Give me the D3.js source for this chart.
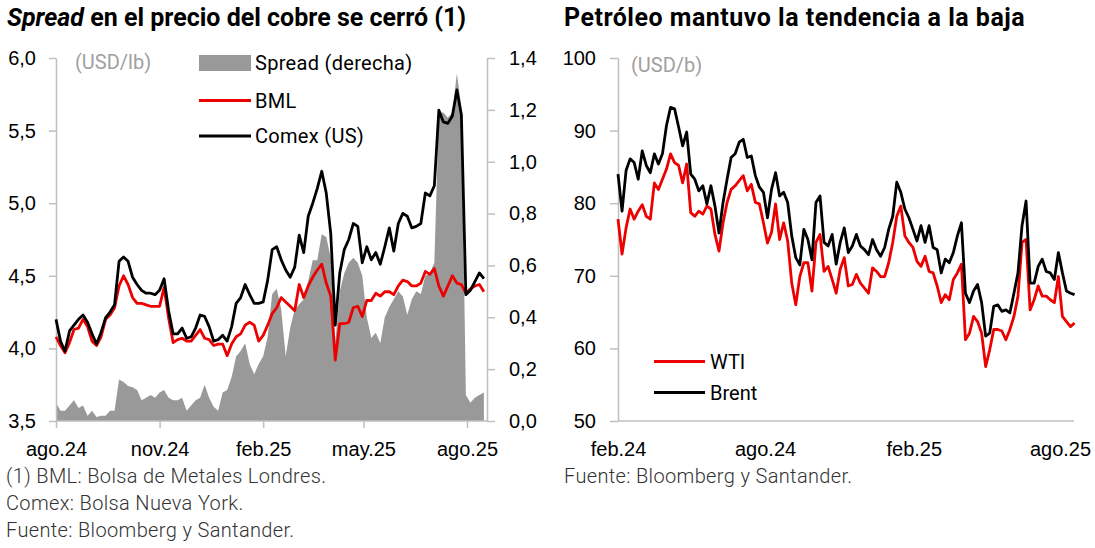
<!DOCTYPE html>
<html lang="es">
<head>
<meta charset="UTF-8">
<title>Cobre y petróleo</title>
<script src="https://d3js.org/d3.v7.min.js"></script>
<style>
  body { margin: 0; background: #fff; }
  svg { display: block; font-family: Roboto, "Noto Sans", sans-serif; }
</style>
</head>
<body>
<svg id="chart" width="1095" height="548"></svg>
<script>
// ---- copper (left): one reading every 4 days from 1 Aug 2024 ----
const copperStart = "2024-08-01";
const copperStepDays = 4;
const comex = [4.20,4.05,3.98,4.12,4.16,4.20,4.23,4.18,4.10,4.03,4.11,4.21,4.25,4.30,4.60,4.63,4.60,4.49,4.44,4.40,
  4.38,4.38,4.37,4.40,4.48,4.26,4.10,4.10,4.14,4.07,4.08,4.14,4.23,4.22,4.15,4.05,4.06,4.09,4.05,4.15,
  4.31,4.35,4.44,4.37,4.31,4.31,4.32,4.47,4.68,4.70,4.61,4.54,4.49,4.56,4.78,4.66,4.91,5.00,5.10,5.22,
  5.07,4.79,4.16,4.52,4.68,4.75,4.86,4.84,4.59,4.70,4.61,4.66,4.58,4.70,4.83,4.67,4.86,4.93,4.91,4.83,
  4.84,4.86,5.07,5.05,5.12,5.64,5.56,5.55,5.60,5.78,5.61,4.37,4.40,4.46,4.52,4.48];
const bml = [4.08,4.02,3.97,4.04,4.13,4.14,4.20,4.15,4.05,4.02,4.08,4.20,4.23,4.28,4.43,4.50,4.44,4.35,4.31,4.31,
  4.30,4.29,4.29,4.29,4.42,4.21,4.04,4.06,4.07,4.05,4.05,4.09,4.13,4.07,4.06,4.02,4.03,4.03,3.95,4.03,
  4.08,4.10,4.16,4.18,4.16,4.05,4.09,4.16,4.24,4.28,4.35,4.32,4.29,4.26,4.44,4.35,4.43,4.49,4.54,4.58,
  4.45,4.36,3.92,4.17,4.17,4.18,4.28,4.29,4.22,4.33,4.33,4.38,4.36,4.39,4.39,4.37,4.43,4.47,4.46,4.43,
  4.43,4.45,4.53,4.51,4.55,4.43,4.36,4.43,4.50,4.45,4.44,4.38,4.41,4.43,4.44,4.39];
const spread = [0.07,0.04,0.04,0.06,0.08,0.05,0.06,0.02,0.04,0.015,0.02,0.02,0.04,0.04,0.16,0.15,0.135,0.13,0.12,0.08,
  0.09,0.10,0.09,0.11,0.12,0.09,0.08,0.08,0.09,0.04,0.06,0.08,0.09,0.14,0.09,0.055,0.04,0.11,0.12,0.17,
  0.25,0.27,0.30,0.22,0.18,0.22,0.25,0.325,0.49,0.51,0.43,0.25,0.36,0.43,0.45,0.47,0.54,0.62,0.62,0.72,
  0.71,0.63,0.30,0.50,0.57,0.61,0.63,0.61,0.56,0.40,0.32,0.34,0.30,0.40,0.44,0.47,0.50,0.48,0.41,0.47,
  0.50,0.49,0.56,0.57,0.61,1.19,1.19,1.17,1.19,1.34,1.21,0.10,0.07,0.09,0.10,0.11];
const copperTickDates = ["2024-08-01", "2024-11-01", "2025-02-01", "2025-05-01", "2025-08-01"];
const copperTickLabels = ["ago.24", "nov.24", "feb.25", "may.25", "ago.25"];
const copperLeftTicks = [3.5, 4.0, 4.5, 5.0, 5.5, 6.0];
const copperRightTicks = [0, 0.2, 0.4, 0.6, 0.8, 1.0, 1.2, 1.4];

// ---- oil (right): one reading every 5 days from 1 Feb 2024 ----
const oilStart = "2024-02-01";
const oilStepDays = 5;
const brent = [84.0,78.9,84.5,86.1,85.6,83.3,87.2,85.2,84.2,86.8,85.4,86.8,90.7,93.2,93.0,90.5,87.9,89.8,84.0,83.3,
  81.7,82.4,79.9,82.4,79.6,75.9,80.1,83.3,86.3,86.8,88.4,88.8,86.3,86.5,83.8,82.2,81.5,78.0,81.9,84.2,
  81.0,81.5,80.1,75.5,72.5,71.5,76.4,75.0,72.2,80.1,81.0,74.6,74.1,75.7,71.6,74.6,76.6,73.2,74.1,75.7,
  74.1,73.6,72.9,75.0,73.6,72.7,73.9,76.4,78.2,82.9,81.5,79.2,78.0,76.4,74.8,76.9,74.6,76.9,73.9,73.6,
  70.4,72.3,71.8,73.2,75.5,77.3,67.6,66.3,67.9,68.8,66.3,61.7,62.1,65.8,66.0,65.1,65.3,64.9,67.6,70.4,
  76.9,80.3,69.0,69.0,71.3,72.3,70.6,70.4,69.5,73.2,70.4,67.9,67.6,67.4];
const wti = [77.8,73.0,76.6,79.2,77.8,78.9,79.8,78.2,77.8,82.8,81.9,83.3,84.7,86.8,85.6,85.2,82.8,85.4,78.7,78.2,
  78.9,78.5,79.6,79.2,75.7,73.4,77.3,80.1,81.9,82.4,83.1,83.8,81.7,82.6,80.1,79.9,77.3,74.5,76.0,79.9,
  75.0,77.3,74.8,69.0,66.0,69.9,71.8,71.8,67.9,74.6,75.7,70.6,71.3,69.5,67.6,70.9,72.5,68.6,68.8,70.2,
  69.0,68.3,67.6,71.1,70.6,69.9,69.9,71.8,74.6,78.2,79.6,75.5,74.6,73.9,72.0,71.3,72.7,70.6,70.4,68.6,
  66.3,67.4,66.7,69.5,70.4,71.6,61.2,62.1,64.4,63.7,62.1,57.5,59.8,62.6,62.6,62.4,61.2,62.6,64.4,67.2,
  74.6,75.0,65.3,66.7,68.6,67.2,67.2,66.7,66.3,69.9,64.4,63.7,63.0,63.5];
const oilTickDates = ["2024-02-01", "2024-08-01", "2025-02-01", "2025-08-01"];
const oilTickLabels = ["feb.24", "ago.24", "feb.25", "ago.25"];
const oilTicks = [50, 60, 70, 80, 90, 100];

const RED = "#ec0000", AXIS = "#bfbfbf", FILL = "#999999", NOTE = "#333333";
const parse = d3.timeParse("%Y-%m-%d");
const fmt1 = d3.formatLocale({decimal: ",", thousands: ".", grouping: [3], currency: ["", ""]}).format(".1f");

const svg = d3.select("#chart");

function series(start, step, values) {
  const t0 = parse(start);
  return values.map((v, i) => ({date: d3.timeDay.offset(t0, i * step), v}));
}

function styleAxis(g) {
  g.select(".domain").attr("stroke", AXIS).attr("stroke-width", 1.5);
  g.selectAll(".tick line").attr("stroke", AXIS).attr("stroke-width", 1.5);
  g.selectAll(".tick text").attr("fill", "#000").style("font-size", "20px");
}

function note(x, y, t) {
  svg.append("text").attr("x", x).attr("y", y)
    .attr("fill", NOTE).style("font-size", "20px").style("font-weight", 300)
    .style("letter-spacing", "0.35px").text(t);
}

// ================= left: copper =================
const L = {left: 56, right: 487, top: 58, bottom: 421};

const xL = d3.scaleTime()
  .domain([parse("2024-08-01"), parse("2025-08-01")])
  .range([L.left, 467]);
const yL = d3.scaleLinear().domain([3.5, 6.0]).range([L.bottom, L.top]);
const yS = d3.scaleLinear().domain([0, 1.4]).range([L.bottom, L.top]);

const comexData = series(copperStart, copperStepDays, comex);
const bmlData = series(copperStart, copperStepDays, bml);
const spreadData = series(copperStart, copperStepDays, spread);

svg.append("path")
  .datum(spreadData)
  .attr("fill", FILL)
  .attr("d", d3.area().x(d => xL(d.date)).y0(yS(0)).y1(d => yS(d.v)));

svg.append("g")
  .attr("transform", `translate(${L.left},0)`)
  .call(d3.axisLeft(yL).tickValues(copperLeftTicks).tickFormat(fmt1)
    .tickSize(7).tickSizeOuter(0).tickPadding(13))
  .call(styleAxis);

svg.append("g")
  .attr("transform", `translate(${L.right},0)`)
  .call(d3.axisRight(yS).tickValues(copperRightTicks).tickFormat(fmt1)
    .tickSize(8).tickSizeOuter(0).tickPadding(14))
  .call(styleAxis);

svg.append("g")
  .attr("transform", `translate(0,${L.bottom})`)
  .call(d3.axisBottom(xL).tickValues(copperTickDates.map(parse))
    .tickFormat((d, i) => copperTickLabels[i]).tickSize(7).tickSizeOuter(0).tickPadding(14))
  .call(styleAxis)
  .call(g => g.select(".domain").remove());

svg.append("line")
  .attr("x1", L.left).attr("x2", L.right)
  .attr("y1", L.bottom).attr("y2", L.bottom)
  .attr("stroke", AXIS).attr("stroke-width", 1.5);

const lineL = d3.line().x(d => xL(d.date)).y(d => yL(d.v));
svg.append("path").datum(bmlData)
  .attr("fill", "none").attr("stroke", RED).attr("stroke-width", 2.8)
  .attr("stroke-linejoin", "round").attr("d", lineL);
svg.append("path").datum(comexData)
  .attr("fill", "none").attr("stroke", "#000").attr("stroke-width", 2.8)
  .attr("stroke-linejoin", "round").attr("d", lineL);

svg.append("text")
  .attr("x", 75).attr("y", 62).attr("dy", "0.35em")
  .attr("fill", "#a0a0a0").style("font-size", "20px")
  .text("(USD/lb)");

// legend
const legL = svg.append("g").style("font-size", "20px");
legL.append("rect").attr("x", 199).attr("y", 55).attr("width", 52).attr("height", 16).attr("fill", FILL);
legL.append("line").attr("x1", 199).attr("x2", 251).attr("y1", 100.5).attr("y2", 100.5)
  .attr("stroke", RED).attr("stroke-width", 3);
legL.append("line").attr("x1", 199).attr("x2", 251).attr("y1", 136).attr("y2", 136)
  .attr("stroke", "#000").attr("stroke-width", 3);
[["Spread (derecha)", 63], ["BML", 100.5], ["Comex (US)", 136]].forEach(([t, y]) => {
  legL.append("text").attr("x", 255).attr("y", y).attr("dy", "0.35em")
    .style("letter-spacing", "0.3px").text(t);
});

// title
const tL = svg.append("text").attr("x", 7).attr("y", 26)
  .style("font-size", "25px").style("font-weight", "bold");
tL.append("tspan").style("font-style", "italic").text("Spread");
tL.append("tspan").text(" en el precio del cobre se cerró (1)");

// notes
["(1) BML: Bolsa de Metales Londres.", "Comex: Bolsa Nueva York.", "Fuente: Bloomberg y Santander."]
  .forEach((t, i) => note(6, 483 + i * 27, t));

// ================= right: oil =================
const R = {left: 618, right: 1074, top: 58, bottom: 421};

const xR = d3.scaleTime()
  .domain([parse("2024-02-01"), parse("2025-08-01")])
  .range([R.left, 1060]);
const yR = d3.scaleLinear().domain([50, 100]).range([R.bottom, R.top]);

const brentData = series(oilStart, oilStepDays, brent);
const wtiData = series(oilStart, oilStepDays, wti);

svg.append("g")
  .attr("transform", `translate(${R.left},0)`)
  .call(d3.axisLeft(yR).tickValues(oilTicks).tickSize(8).tickSizeOuter(0).tickPadding(14))
  .call(styleAxis);

svg.append("g")
  .attr("transform", `translate(0,${R.bottom})`)
  .call(d3.axisBottom(xR).tickValues(oilTickDates.map(parse))
    .tickFormat((d, i) => oilTickLabels[i]).tickSize(0).tickSizeOuter(0).tickPadding(21))
  .call(styleAxis)
  .call(g => g.select(".domain").remove());

svg.append("line")
  .attr("x1", R.left).attr("x2", R.right)
  .attr("y1", R.bottom).attr("y2", R.bottom)
  .attr("stroke", AXIS).attr("stroke-width", 1.5);

const lineR = d3.line().x(d => xR(d.date)).y(d => yR(d.v));
svg.append("path").datum(wtiData)
  .attr("fill", "none").attr("stroke", RED).attr("stroke-width", 2.8)
  .attr("stroke-linejoin", "round").attr("d", lineR);
svg.append("path").datum(brentData)
  .attr("fill", "none").attr("stroke", "#000").attr("stroke-width", 2.8)
  .attr("stroke-linejoin", "round").attr("d", lineR);

svg.append("text")
  .attr("x", 631).attr("y", 65).attr("dy", "0.35em")
  .attr("fill", "#a0a0a0").style("font-size", "20px")
  .text("(USD/b)");

const legR = svg.append("g").style("font-size", "20px");
legR.append("line").attr("x1", 654).attr("x2", 705).attr("y1", 361.5).attr("y2", 361.5)
  .attr("stroke", RED).attr("stroke-width", 3);
legR.append("line").attr("x1", 654).attr("x2", 705).attr("y1", 392.5).attr("y2", 392.5)
  .attr("stroke", "#000").attr("stroke-width", 3);
[["WTI", 361.5], ["Brent", 392.5]].forEach(([t, y]) => {
  legR.append("text").attr("x", 710).attr("y", y).attr("dy", "0.35em").text(t);
});

svg.append("text").attr("x", 564).attr("y", 26)
  .style("font-size", "25px").style("font-weight", "bold").style("letter-spacing", "0.5px")
  .text("Petróleo mantuvo la tendencia a la baja");

note(564, 483, "Fuente: Bloomberg y Santander.");
</script>
</body>
</html>
